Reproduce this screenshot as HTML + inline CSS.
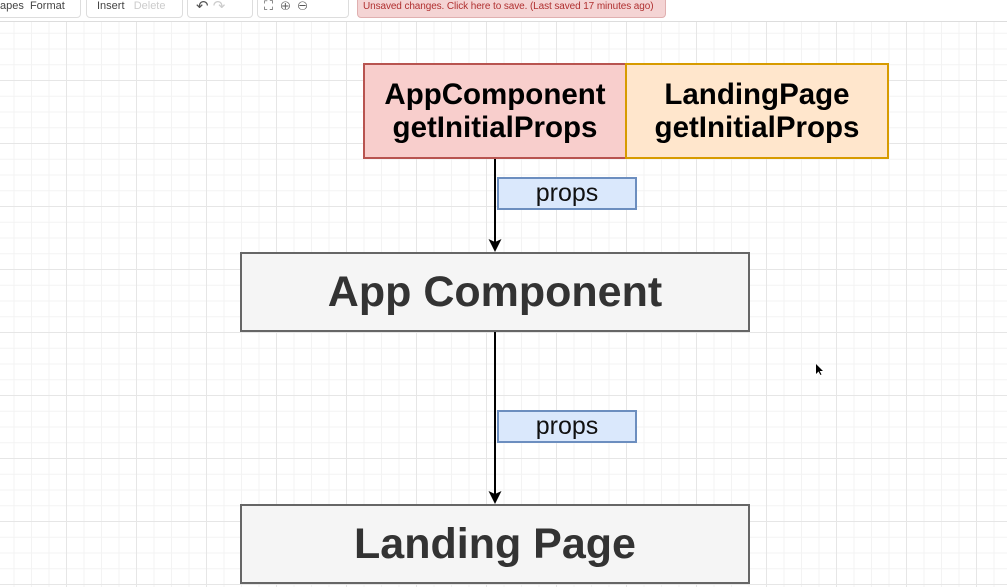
<!DOCTYPE html>
<html><head><style>
body{margin:0;width:1007px;height:587px;overflow:hidden;background:#fff;font-family:"Liberation Sans",sans-serif;position:relative}
#grid{position:absolute;left:0;top:22px;width:1007px;height:565px;
background-image:
linear-gradient(#e6e6e6 1px,transparent 1px),
linear-gradient(90deg,#e6e6e6 1px,transparent 1px),
linear-gradient(#f3f3f3 1px,transparent 1px),
linear-gradient(90deg,#f3f3f3 1px,transparent 1px);
background-size:63px 63px,70px 70px,15.75px 15.75px,17.5px 17.5px;
background-position:0 -5px,-4px 0,0 -5px,-4px 0}
#tb{position:absolute;left:0;top:0;width:1007px;height:21px;background:#fff;border-bottom:1px solid #ddd;font-size:11px;color:#444;white-space:nowrap}
.g{position:absolute;top:-4px;height:20px;border:1px solid #ddd;border-radius:4px;background:#fff}
.b{position:absolute;box-sizing:border-box;display:flex;align-items:center;justify-content:center;text-align:center;font-weight:bold;color:#000}
.p{position:absolute;box-sizing:border-box;left:497px;width:140px;height:33px;background:#dae8fc;border:2px solid #6c8ebf;font-size:25px;display:flex;align-items:center;justify-content:center;color:#111}
</style></head><body>
<div id="grid"></div>
<div id="tb">
<div class="g" style="left:-5px;width:84px"><span style="position:absolute;left:4px;top:3px">apes&nbsp;&nbsp;Format</span></div>
<div class="g" style="left:86px;width:95px"><span style="position:absolute;left:10px;top:3px">Insert&nbsp;&nbsp;&nbsp;<span style="color:#ccc">Delete</span></span></div>
<div class="g" style="left:187px;width:64px"><span style="position:absolute;left:8px;top:0px;font-size:15px;color:#555">↶ <span style="color:#ccc">↷</span></span></div>
<div class="g" style="left:257px;width:90px"><span style="position:absolute;left:6px;top:1px;font-size:13px;color:#555">⛶ &nbsp;⊕ &nbsp;⊖</span></div>
<div class="g" style="left:357px;width:307px;background:#f4d4d4;border-color:#e0b0b0;color:#b03030"><span style="position:absolute;left:5px;top:4px;font-size:10px;letter-spacing:-0.1px">Unsaved changes. Click here to save. (Last saved 17 minutes ago)</span></div>
</div>
<div class="b" style="left:363px;top:63px;width:264px;height:96px;background:#f8cecc;border:2px solid #b85450;font-size:29.5px;line-height:33px">AppComponent<br>getInitialProps</div>
<div class="b" style="left:625px;top:63px;width:264px;height:96px;background:#ffe6cc;border:2px solid #d79b00;font-size:29.5px;line-height:33px">LandingPage<br>getInitialProps</div>
<svg style="position:absolute;left:0;top:0" width="1007" height="587">
<line x1="495" y1="159" x2="495" y2="245" stroke="#000" stroke-width="2"/>
<path d="M488.5 239 L495 252 L501.5 239 L495 242 Z" fill="#000"/>
<line x1="495" y1="332" x2="495" y2="497" stroke="#000" stroke-width="2"/>
<path d="M488.5 491 L495 504 L501.5 491 L495 494 Z" fill="#000"/>
<path d="M816 364 L816 374 L818.5 371.5 L820.5 375 L821.5 374.5 L819.7 371 L823 371 Z" fill="#000"/>
</svg>
<div class="p" style="top:177px">props</div>
<div class="p" style="top:410px">props</div>
<div class="b" style="left:240px;top:252px;width:510px;height:80px;background:#f5f5f5;border:2px solid #666;font-size:43px;color:#333">App Component</div>
<div class="b" style="left:240px;top:504px;width:510px;height:80px;background:#f5f5f5;border:2px solid #666;font-size:43px;color:#333">Landing Page</div>
</body></html>
